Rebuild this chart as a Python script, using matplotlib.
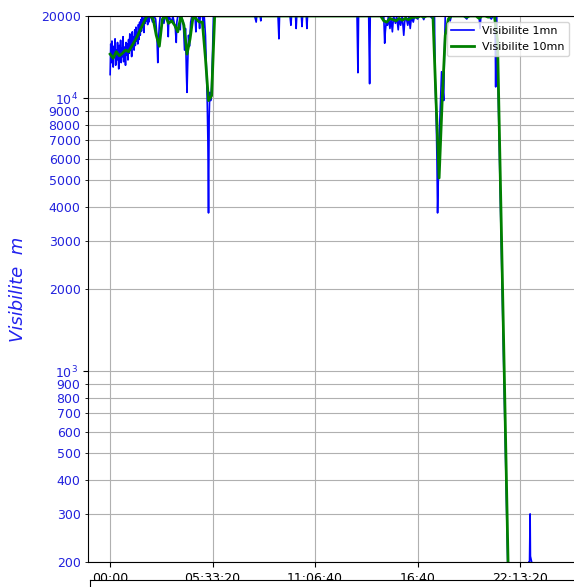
import matplotlib
matplotlib.use('Agg')
from matplotlib import pyplot as plt
from matplotlib.ticker import FuncFormatter, LogLocator

early_min = list(range(0, 131, 2))
early_vis = [12200, 15800, 13500, 16200, 14000, 13000, 15500, 14200, 16500, 13200,
             15000, 13800, 16000, 14500, 12800, 15600, 14000, 16300, 13500, 15200,
             14200, 16800, 13600, 15400, 14800, 13200, 16000, 14400, 15800, 13800,
             16400, 14600, 17200, 15000, 16600, 14200, 17500, 15400, 16800, 15000,
             17800, 15600, 18200, 16200, 17400, 15800, 18600, 16400, 19000, 17000,
             19400, 17600, 20000, 18200, 19600, 17400, 20000, 18800, 20000, 19200,
             20000, 18600, 20000, 19000, 20000, 20000]

# rest of the day: (minute, visibility) at the visible dips
day_pts = [(132, 20000), (138, 19000), (142, 20000), (148, 19500), (152, 17000), (155, 13500),
           (157, 16000), (160, 18500), (163, 20000), (170, 20000), (175, 18800), (178, 20000),
           (186, 20000), (189, 16800), (191, 20000), (200, 19000), (204, 20000), (212, 18000),
           (215, 16000), (217, 19000), (220, 20000), (226, 20000), (228, 17800), (230, 20000),
           (238, 19000), (242, 15000), (245, 18000), (248, 12500), (250, 10500), (252, 13000),
           (255, 17000), (258, 15500), (262, 19000), (266, 20000), (276, 20000), (279, 17500),
           (281, 20000), (288, 20000), (291, 18000), (293, 20000), (300, 20000), (304, 18200),
           (306, 20000), (310, 17000), (313, 13000), (316, 9500), (318, 7000), (320, 3800),
           (322, 8500), (324, 10500), (327, 9800), (330, 11000), (333, 14500), (336, 20000),
           (340, 20000), (470, 20000), (475, 19000), (477, 20000), (488, 20000), (490, 19200),
           (492, 20000), (546, 20000), (549, 16500), (551, 20000), (585, 20000), (588, 18500),
           (590, 20000), (603, 20000), (605, 18000), (607, 20000), (622, 20000), (624, 18300),
           (626, 20000), (638, 20000), (640, 18000), (642, 20000), (803, 20000), (806, 12400),
           (808, 20000), (841, 20000), (844, 11300), (846, 20000), (890, 20000), (893, 15900),
           (895, 17500), (898, 19000), (902, 18500), (905, 20000), (910, 18000), (914, 19500),
           (918, 17500), (922, 20000), (928, 18800), (932, 20000), (937, 17800), (940, 19500),
           (945, 18500), (950, 20000), (955, 17000), (958, 19000), (962, 20000), (968, 18500),
           (972, 20000), (976, 18000), (980, 19800), (986, 19000), (990, 20000), (1000, 19500),
           (1005, 20000), (1015, 20000), (1020, 19400), (1024, 20000), (1040, 20000), (1048, 19600),
           (1052, 20000), (1055, 20000), (1057, 12000), (1059, 9800), (1061, 8000), (1063, 6000),
           (1065, 3800), (1067, 4800), (1069, 6500), (1072, 8000), (1075, 10000), (1078, 12500),
           (1082, 11000), (1085, 9800), (1087, 14000), (1090, 20000), (1100, 20000), (1106, 19200),
           (1110, 20000), (1150, 20000), (1160, 19500), (1165, 20000), (1200, 20000), (1203, 18000),
           (1206, 20000), (1230, 20000), (1240, 19500), (1245, 20000), (1252, 20000), (1254, 11000),
           (1256, 20000)]

# fog coming in, minute by minute
drop_min = list(range(1257, 1297)) + [1298]
drop_vis = [20000, 18000, 15800, 13900, 12200, 10800, 9500, 8300, 7300, 6400,
            5700, 5000, 4400, 3800, 3400, 3000, 2600, 2300, 2000, 1800,
            1600, 1400, 1200, 1050, 930, 820, 720, 630, 560, 490,
            430, 380, 330, 290, 260, 230, 200, 175, 155, 135, 120]

late_pts = [(1300, 110), (1330, 120), (1355, 150), (1360, 185), (1362, 200), (1364, 195),
            (1366, 300), (1367, 210), (1369, 205), (1371, 200), (1373, 190), (1376, 160),
            (1400, 130), (1439, 120)]

# visibility 10 min
vis10_min = list(range(0, 1440, 10))
vis10 = [14500, 14000, 14800, 14300, 14600, 15000, 14800, 15500, 16200, 17000,
         18000, 19000, 20000, 20000, 19500, 17000, 15500, 19500, 20000, 18800,
         19200, 18500, 17500, 20000, 18500, 14500, 16500, 20000, 19500, 19000,
         19000, 14000, 9800, 10200, 20000, 20000, 20000, 20000, 20000, 20000,
         20000, 20000, 20000, 20000, 20000, 20000, 20000, 20000, 20000, 20000,
         20000, 20000, 20000, 20000, 20000, 20000, 20000, 20000, 20000, 20000,
         20000, 20000, 20000, 20000, 20000, 20000, 20000, 20000, 20000, 20000,
         20000, 20000, 20000, 20000, 20000, 20000, 20000, 20000, 20000, 20000,
         20000, 20000, 20000, 20000, 20000, 20000, 20000, 20000, 20000, 19200,
         19000, 19600, 19400, 19200, 19600, 19300, 19600, 19400, 19700, 19800,
         19800, 20000, 19800, 20000, 20000, 20000, 9800, 5100, 9800, 17000,
         19500, 20000, 20000, 20000, 20000, 20000, 19800, 20000, 20000, 20000,
         19600, 20000, 20000, 19800, 20000, 20000, 16200, 4600, 1270, 347,
         95, 100, 110, 120, 120, 120, 130, 130, 120, 120,
         120, 120, 120, 120]

vis1_min = early_min + [p[0] for p in day_pts] + drop_min + [p[0] for p in late_pts]
vis1 = early_vis + [p[1] for p in day_pts] + drop_vis + [p[1] for p in late_pts]
t1 = [m * 60 for m in vis1_min]
t10 = [m * 60 for m in vis10_min]


def hms(v, pos):
    v = int(round(v))
    h, m, s = v // 3600, (v % 3600) // 60, v % 60
    if s == 0:
        return '%02d:%02d' % (h, m)
    return '%02d:%02d:%02d' % (h, m, s)


fig = plt.figure(figsize=(5.74, 5.87), dpi=100)
ax = fig.add_axes([88 / 574, 25 / 587, 487 / 574, 546 / 587])
ax.plot(t1, vis1, c='b', lw=1.2, label='Visibilite 1mn')
ax.plot(t10, vis10, c='g', lw=2, label='Visibilite 10mn')
ax.set_yscale('log')
ax.set_ylim(200, 20000)
ax.set_xlim(-4320, 90720)
ax.set_xticks([0, 20000, 40000, 60000, 80000])
ax.xaxis.set_major_formatter(FuncFormatter(hms))
ax.yaxis.set_minor_locator(LogLocator(base=10, subs=range(2, 10)))
ax.yaxis.set_minor_formatter(FuncFormatter(lambda v, p: '%d' % round(v)))
ax.tick_params(axis='both', which='both', labelsize=9)
ax.tick_params(axis='y', which='both', labelcolor='#2222dd')
ax.grid(True, which='both')
ax.set_ylabel('Visibilite  m', color='#2222ee', fontsize=13, style='italic', labelpad=10)
ax.legend(loc='upper right', fontsize=8)

# next subplot, only its top edge shows in the crop
ax2 = fig.add_axes([90 / 574, -0.5, 0.9, 0.5 + 7 / 587])
ax2.set_xticks([])
ax2.set_yticks([])

fig.savefig('out.png', dpi=100)
